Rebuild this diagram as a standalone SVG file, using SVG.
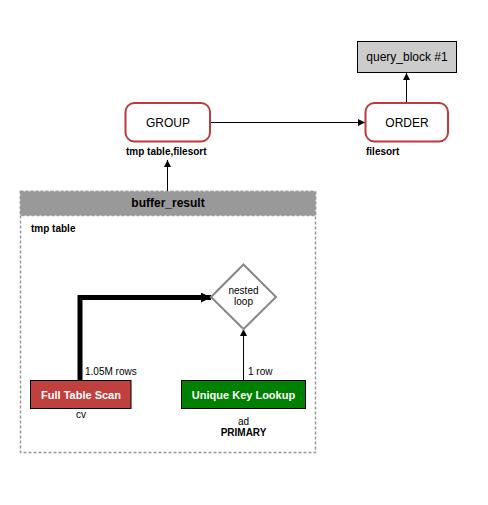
<svg xmlns="http://www.w3.org/2000/svg" width="488" height="505" viewBox="0 0 488 505">
<defs>
<style>
text{font-family:"Liberation Sans",Arial,sans-serif;fill:#000}
.n{font-size:12px;text-anchor:middle}
.lb{font-size:10px;font-weight:bold}
.sm{font-size:10px}
.op{fill:#fff;stroke:#c0393b;stroke-width:2}
.ln{stroke:#000;stroke-width:1;fill:none}
.w{fill:#fff;font-weight:bold;font-size:11px;text-anchor:middle}
</style>
<marker id="ah" viewBox="0 0 10 10" refX="10" refY="5" markerWidth="10" markerHeight="7" markerUnits="userSpaceOnUse" orient="auto"><path d="M0,0L10,5L0,10z" fill="#000"/></marker>
<marker id="ahb" viewBox="0 0 10 10" refX="10" refY="5" markerWidth="16" markerHeight="10" markerUnits="userSpaceOnUse" orient="auto"><path d="M0,0L10,5L0,10z" fill="#000"/></marker>
</defs>
<rect width="488" height="505" fill="#fff"/>
<g id="cluster_buffer_result">
<rect x="20.5" y="191.5" width="295" height="261" fill="#fff" stroke="#999" stroke-width="1.5" stroke-dasharray="3,2"/>
<rect x="20.5" y="191.5" width="295" height="24" fill="#999" stroke="#999" stroke-width="1.5" stroke-dasharray="3,2"/>
<text x="168" y="207" style="font-size:12px;font-weight:bold;text-anchor:middle">buffer_result</text>
<text x="31" y="232" class="lb">tmp table</text>
</g>
<g id="connectors">
<line class="ln" x1="210" y1="122.5" x2="365" y2="122.5" marker-end="url(#ah)"/>
<line class="ln" x1="406.5" y1="102" x2="406.5" y2="73" marker-end="url(#ah)"/>
<line class="ln" x1="167.5" y1="191" x2="167.5" y2="160" marker-end="url(#ah)"/>
<polyline points="80,380 80,297.5 211,297.5" fill="none" stroke="#000" stroke-width="5" marker-end="url(#ahb)"/>
<line class="ln" x1="243.5" y1="380" x2="243.5" y2="329" marker-end="url(#ah)"/>
<text x="85" y="375" class="sm">1.05M rows</text>
<text x="248" y="375" class="sm">1 row</text>
</g>
<g id="query_block">
<rect x="357.5" y="41.5" width="99" height="31" fill="#ccc" stroke="#000" stroke-width="1"/>
<text x="407" y="61" class="n">query_block #1</text>
</g>
<g id="group">
<rect x="125.5" y="103" width="84.5" height="38.5" rx="9" class="op"/>
<text x="168" y="126.5" class="n">GROUP</text>
<text x="126" y="155" class="lb">tmp table,filesort</text>
</g>
<g id="order">
<rect x="365.5" y="103" width="82.5" height="38.5" rx="9" class="op"/>
<text x="407" y="126.5" class="n">ORDER</text>
<text x="366" y="155" class="lb">filesort</text>
</g>
<g id="nested_loop">
<polygon points="243.5,264.5 276,297 243.5,329 211,297" fill="#fff" stroke="#888" stroke-width="2"/>
<text x="243.5" y="294" class="sm" text-anchor="middle">nested</text>
<text x="243.5" y="304.5" class="sm" text-anchor="middle">loop</text>
</g>
<g id="full_table_scan">
<rect x="30.5" y="380.5" width="100.5" height="28" fill="#c04040" stroke="#000" stroke-width="1"/>
<text x="81" y="398.5" class="w">Full Table Scan</text>
<text x="81" y="418" class="sm" text-anchor="middle">cv</text>
</g>
<g id="unique_key_lookup">
<rect x="181.5" y="380.5" width="124" height="28" fill="#008000" stroke="#000" stroke-width="1"/>
<text x="243.5" y="398.5" class="w">Unique Key Lookup</text>
<text x="243.5" y="425" class="sm" text-anchor="middle">ad</text>
<text x="243.5" y="436" class="lb" text-anchor="middle">PRIMARY</text>
</g>
</svg>
